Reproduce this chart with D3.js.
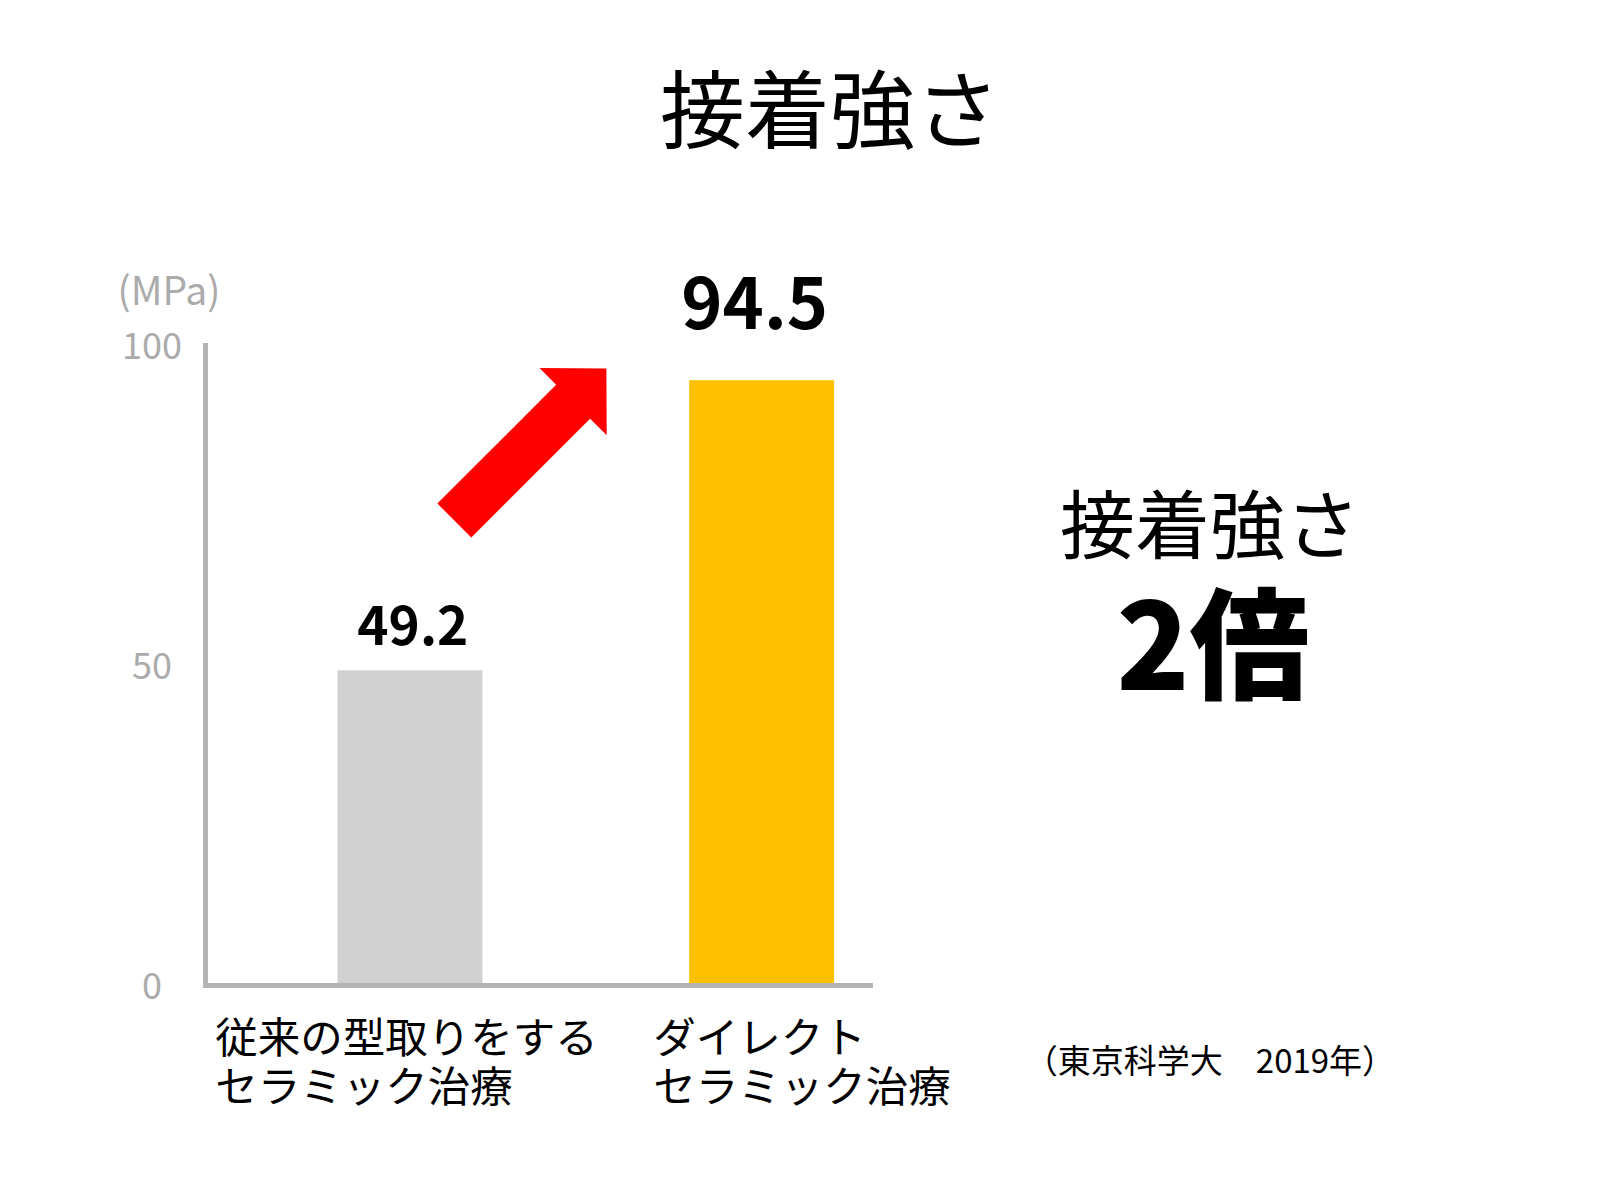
<!DOCTYPE html>
<html lang="ja">
<head>
<meta charset="utf-8">
<script src="https://cdn.jsdelivr.net/npm/d3@7"></script>
<style>
  html, body { margin: 0; padding: 0; background: #ffffff; }
  svg { display: block; }
  text { font-family: "Noto Sans CJK JP", "Noto Sans", sans-serif; }
</style>
</head>
<body>
<svg id="chart" width="1600" height="1191"></svg>
<script>
// ---- data ----
const categories = ["従来の型取りをする\nセラミック治療", "ダイレクト\nセラミック治療"];
const values = [49.2, 94.5];
const valueLabels = ["49.2", "94.5"];
const barColors = ["#d0d0d0", "#ffc000"];
const yTicks = [0, 50, 100];
const yUnit = "(MPa)";
const title = "接着強さ";
const sideText = ["接着強さ", "2倍"];
const source = "（東京科学大　2019年）";

// ---- layout ----
const svg = d3.select("#chart");
const axisX = 205.5;
const x = d3.scaleBand()
  .domain(d3.range(categories.length))
  .range([axisX, 966])
  .paddingInner(0.588)
  .paddingOuter(0.375);
const y = d3.scaleLinear().domain([0, 100]).range([985.5, 345]);

// title
svg.append("text")
  .attr("x", 830).attr("y", 104)
  .attr("text-anchor", "middle").attr("dominant-baseline", "central")
  .attr("font-size", 85).attr("fill", "#000")
  .text(title);

// bars
svg.selectAll("rect.bar").data(values).join("rect")
  .attr("class", "bar")
  .attr("x", (d, i) => x(i))
  .attr("width", x.bandwidth())
  .attr("y", d => y(d))
  .attr("height", d => y(0) - y(d))
  .attr("fill", (d, i) => barColors[i]);

// y axis (left line + tick labels)
const yAxis = d3.axisLeft(y).tickValues(yTicks).tickSize(0).tickSizeOuter(0).tickPadding(0);
const gy = svg.append("g").attr("transform", `translate(${axisX},0)`).call(yAxis);
gy.select(".domain").attr("stroke", "#b4b4b4").attr("stroke-width", 5)
  .attr("d", `M0,${y(100) - 2}V${y(0) + 2.5}`);
gy.selectAll(".tick text")
  .attr("x", 152 - axisX).attr("dy", null).attr("y", 13)
  .attr("text-anchor", "middle")
  .attr("font-size", 36).attr("fill", "#ababab")
  .attr("font-family", "'Noto Sans CJK JP', sans-serif");

// baseline (x axis)
svg.append("line")
  .attr("x1", axisX - 2.5).attr("x2", 873)
  .attr("y1", y(0)).attr("y2", y(0))
  .attr("stroke", "#b4b4b4").attr("stroke-width", 5);

// unit label
svg.append("text")
  .attr("x", 169).attr("y", 305)
  .attr("text-anchor", "middle")
  .attr("font-size", 39).attr("fill", "#ababab")
  .text(yUnit);

// value labels
const labelSizes = [53, 70];
svg.selectAll("text.val").data(values).join("text")
  .attr("class", "val")
  .attr("x", (d, i) => x(i) + x.bandwidth() / 2 + (i === 0 ? 3 : -7))
  .attr("y", (d, i) => i === 0 ? y(d) - 25 : y(d) - 51)
  .attr("text-anchor", "middle")
  .attr("font-weight", "bold")
  .attr("font-size", (d, i) => labelSizes[i])
  .attr("fill", "#000")
  .text((d, i) => valueLabels[i]);

// category labels (two lines, left aligned block)
const catOffsets = [-194.5, -108.5];
categories.forEach((c, i) => {
  const lines = c.split("\n");
  lines.forEach((ln, j) => {
    svg.append("text")
      .attr("font-size", 42.5).attr("fill", "#000")
      .attr("dominant-baseline", "central")
      .attr("x", x(i) + x.bandwidth() / 2 + catOffsets[i])
      .attr("y", 1034 + j * 49)
      .text(ln);
  });
});

// red arrow annotation (from first bar toward second)
const tailX = x(0) + x.bandwidth() - 28;
const tailY = y(72.6);
svg.append("path")
  .attr("d", "M0,-24 L168,-24 L168,-47.5 L215,0 L168,47.5 L168,24 L0,24 Z")
  .attr("transform", `translate(${tailX},${tailY}) rotate(-45)`)
  .attr("fill", "#ff0000");

// side text
svg.append("text")
  .attr("x", 1210).attr("y", 520)
  .attr("text-anchor", "middle").attr("dominant-baseline", "central")
  .attr("font-size", 75).attr("fill", "#000")
  .text(sideText[0]);
svg.append("text")
  .attr("x", 1213).attr("y", 638)
  .attr("text-anchor", "middle").attr("dominant-baseline", "central")
  .attr("font-size", 120).attr("font-weight", 900).attr("fill", "#000")
  .text(sideText[1]);

// source
svg.append("text")
  .attr("x", 1210).attr("y", 1059)
  .attr("text-anchor", "middle").attr("dominant-baseline", "central")
  .attr("font-size", 33).attr("fill", "#000")
  .text(source);
</script>
</body>
</html>
